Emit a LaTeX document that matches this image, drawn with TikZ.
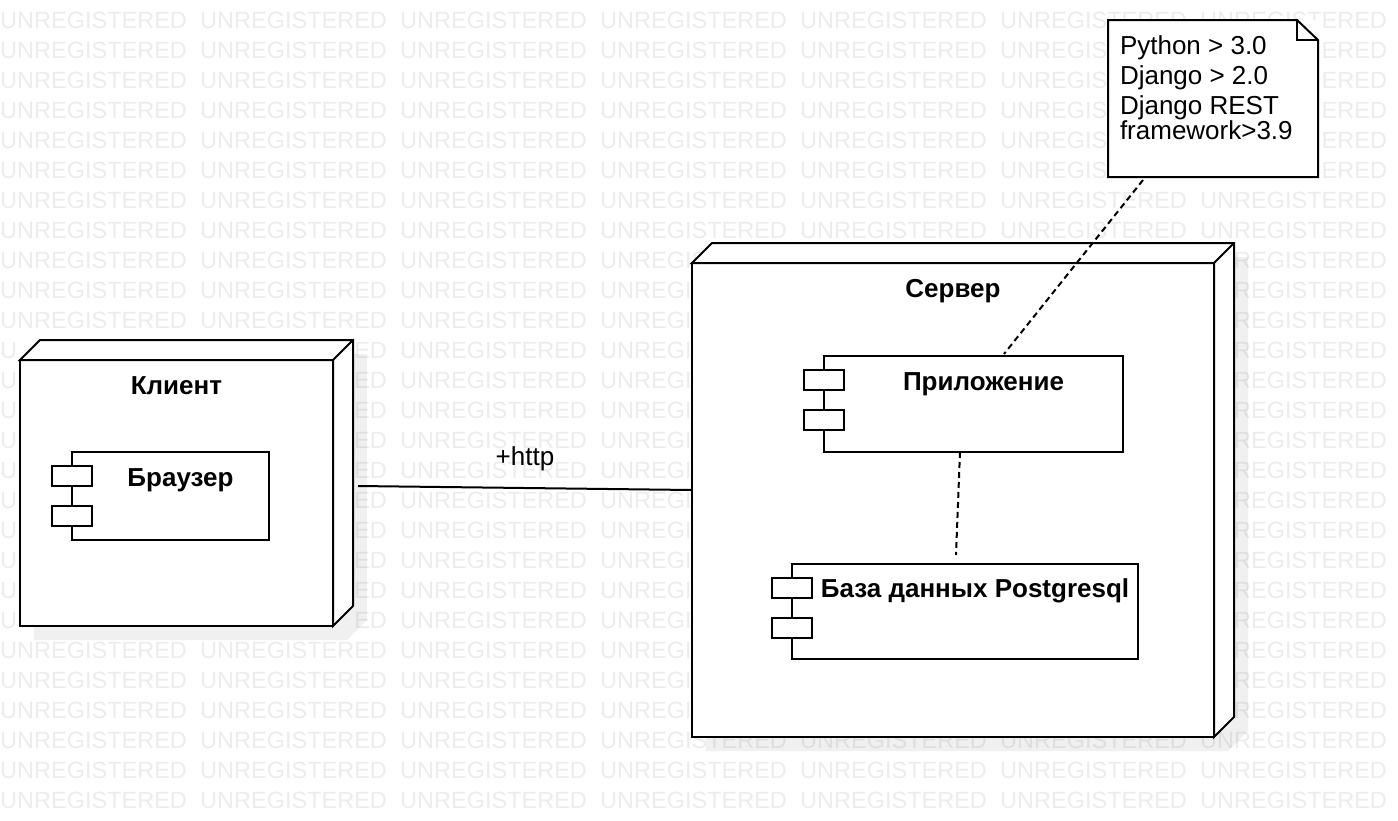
\documentclass[tikz,border=0pt]{standalone}
\usepackage{fontspec}
\setmainfont{Liberation Sans}
\usetikzlibrary{positioning,backgrounds}
\definecolor{wmgray}{RGB}{236,236,236}

\begin{document}
\begin{tikzpicture}[x=1pt, y=-1pt, line width=2pt,
		face/.style = {draw, fill=white, rectangle, inner sep=0pt, outer sep=0pt},
		tab/.style = {face, minimum width=40pt, minimum height=20pt},
		title/.style = {font=\fontsize{26}{30}\selectfont\bfseries, inner sep=0pt, anchor=base},
		plain/.style = {font=\fontsize{26}{30}\selectfont, inner sep=0pt},
		wm/.style = {font=\fontsize{23.5}{28}\selectfont, text=wmgray, inner sep=0pt, anchor=base west},
		shade/.style = {fill=black, fill opacity=0.06},
		link/.style = {dash pattern=on 6pt off 4pt}]
	\useasboundingbox (0,0) rectangle (1398,820);

	% nodes (front faces)
	\node[face, minimum width=313pt, minimum height=266pt] (client) at (176.5,493) {};
	\node[face, minimum width=522pt, minimum height=474pt] (server) at (953,500) {};
	\draw[fill=white] (client.north west) -- ++(20,-20) -- ([shift={(20,-20)}]client.north east) -- ([shift={(20,-20)}]client.south east) -- (client.south east) -- (client.north east) -- cycle;
	\draw (client.north east) -- ++(20,-20);
	\draw[fill=white] (server.north west) -- ++(20,-20) -- ([shift={(20,-20)}]server.north east) -- ([shift={(20,-20)}]server.south east) -- (server.south east) -- (server.north east) -- cycle;
	\draw (server.north east) -- ++(20,-20);
	\node[title] at ([yshift=-34pt]client.north) {Клиент};
	\node[title] at ([yshift=-34pt]server.north) {Сервер};

	% components
	\node[face, minimum width=197pt, minimum height=88pt] (browser) at (170.5,496) {};
	\node[face, minimum width=299pt, minimum height=96pt] (app) at (973.5,404) {};
	\node[face, minimum width=346pt, minimum height=95pt] (db) at (965,611.5) {};
	\foreach \c in {browser, app, db} {
		\node[tab] at ([yshift=-23.5pt]\c.north west) {};
		\node[tab] at ([yshift=-64pt]\c.north west) {};
	}
	\node[title] at ([xshift=10pt,yshift=-34pt]browser.north) {Браузер};
	\node[title] at ([xshift=10pt,yshift=-34pt]app.north) {Приложение};
	\node[title] at ([xshift=10pt,yshift=-33pt]db.north) {База данных Postgresql};

	% note
	\node[face, draw=none, minimum width=210pt, minimum height=157pt] (note) at (1213,98.5) {};
	\draw (note.north west) -- ([xshift=-21pt]note.north east) -- ([yshift=-20pt]note.north east) -- (note.south east) -- (note.south west) -- cycle;
	\draw ([xshift=-21pt]note.north east) -- ([xshift=-21pt,yshift=-20pt]note.north east) -- ([yshift=-20pt]note.north east);
	\node[plain, align=left, anchor=north west] (reqs) at ([xshift=11pt,yshift=-15pt]note.north west) {Python > 3.0\\Django > 2.0\\Django REST\\[-5pt]framework>3.9};

	% connectors
	\draw ([xshift=25pt,yshift=7pt]client.east) -- node[plain, midway, anchor=base, yshift=23pt] {+http} ([yshift=10pt]server.west);
	\draw[link] ([xshift=-13.5pt]app.south) -- ([xshift=-9pt,yshift=9pt]db.north);
	\draw[link] ([xshift=-70pt,yshift=-3pt]note.south) -- ([xshift=30.5pt,yshift=2pt]app.north);

	% watermark and shadows
	\begin{scope}[on background layer]
		\foreach \r in {0,...,26} {
			\foreach \c in {0,...,6} {
				\pgfmathtruncatemacro\hidden{(\r>7)*(\r<24)*(\c>3)*(\c<6) + (\r>10)*(\r<21)*(\c<2) + (\r>0)*(\r<6)*(\c>4)}
				\ifnum\hidden=0 \node[wm] at (200*\c, 28+30*\r) {UNREGISTERED}; \fi
			}
		}
		% words cut by the nodes
		\foreach \r in {11,...,20} {
			\node[wm] at (0, 28+30*\r) {U};
			\node[wm] at (354.1, 28+30*\r) {ED};
		}
		\foreach \r in {1,...,5} {
			\node[wm] at (1000, 28+30*\r) {UNREGIS};
			\node[wm] at (1321.5, 28+30*\r) {ERED};
		}
		\fill[shade] ([shift={(14,14)}]client.north west) -- ++(20,-20) -- ([shift={(34,-6)}]client.north east) -- ([shift={(34,-6)}]client.south east) -- ([shift={(14,14)}]client.south east) -- ([shift={(14,14)}]client.south west) -- cycle;
		\fill[shade] ([shift={(14,14)}]server.north west) -- ++(20,-20) -- ([shift={(34,-6)}]server.north east) -- ([shift={(34,-6)}]server.south east) -- ([shift={(14,14)}]server.south east) -- ([shift={(14,14)}]server.south west) -- cycle;
		\foreach \c in {browser, app, db}
			\fill[shade] ([shift={(14,13)}]\c.north west) rectangle ([shift={(14,13)}]\c.south east);
	\end{scope}
\end{tikzpicture}
\end{document}
